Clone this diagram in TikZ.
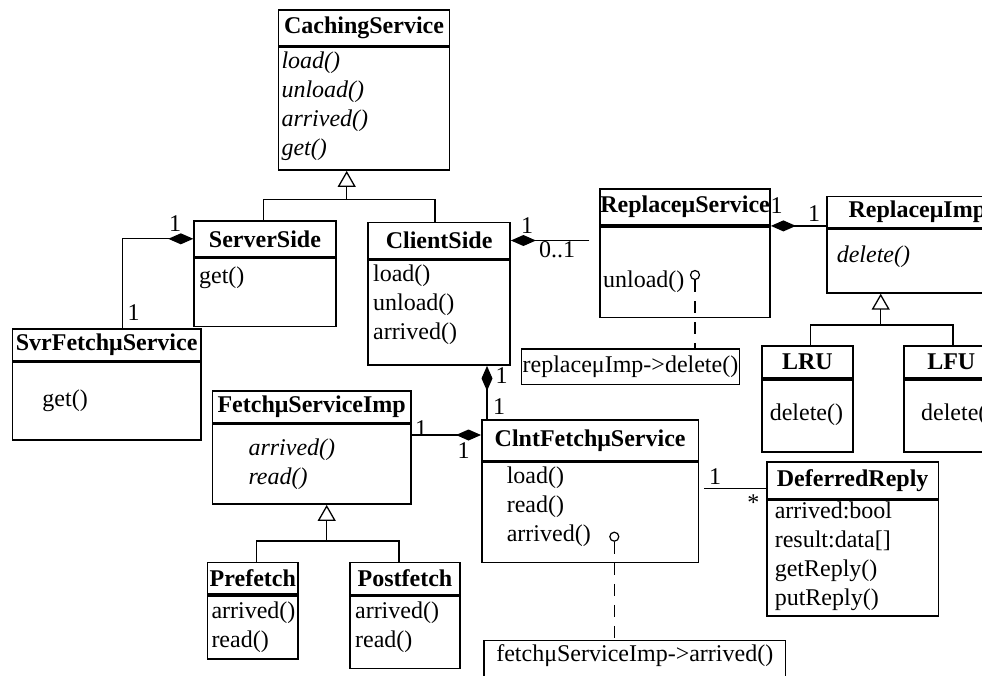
\documentclass[tikz,border=0pt]{standalone}
\usepackage{fontspec}
\setmainfont{Liberation Serif}
\usetikzlibrary{arrows.meta}

\newcommand{\cfont}{\fontsize{24}{29}\selectfont}
\newcommand{\mlist}[2]{\leftskip=#1\relax #2\par}

\tikzset{
  chead/.style={draw, line width=1.6pt, anchor=north west, inner sep=0pt, font=\cfont\bfseries},
  cbody/.style={draw, line width=1.6pt, anchor=north west, inner sep=0pt, align=left, font=\cfont},
  note/.style={draw, line width=1.2pt, anchor=north west, inner sep=0pt, align=center, font=\cfont},
  link/.style={line width=1.3pt},
  comp/.style={link, -{Diamond[length=25pt,width=11pt]}},
  isa/.style={link, -{Triangle[open,length=16pt,width=18pt]}},
  mult/.style={inner sep=0pt, font=\cfont},
  pin/.style={draw, circle, line width=1.2pt, minimum size=9pt, inner sep=0pt},
  dep/.style={line width=1.2pt, dash pattern=on 12pt off 9pt}
}

\begin{document}
\begin{tikzpicture}[x=1pt,y=-1pt]
    \useasboundingbox (0,0) rectangle (982,675);
    \clip (0,0) rectangle (982,675);

    % classes
    \node[chead, minimum width=171pt, minimum height=35.7pt] (cs) at (277.7,9.3) {CachingService};
    \node[cbody, text width=171pt, text height=21pt, text depth=101.7pt] (cs-b) at (cs.south west)
        {\mlist{3pt}{\itshape load()\\unload()\\arrived()\\get()}};

    \node[chead, minimum width=141.7pt, minimum height=36pt] (ss) at (193.3,220) {ServerSide};
    \node[cbody, text width=141.7pt, text height=25pt, text depth=43pt] (ss-b) at (ss.south west)
        {\mlist{5pt}{get()}};

    \node[chead, minimum width=142pt, minimum height=36pt] (cl) at (367.3,221.7) {ClientSide};
    \node[cbody, text width=142pt, text height=21pt, text depth=84pt] (cl-b) at (cl.south west)
        {\mlist{5pt}{load()\\unload()\\arrived()}};

    \node[chead, minimum width=188.3pt, minimum height=31.7pt] (sf) at (11.7,328.3) {SvrFetchμService};
    \node[cbody, text width=188.3pt, text height=44pt, text depth=33.7pt] (sf-b) at (sf.south west)
        {\mlist{30pt}{get()}};

    \node[chead, minimum width=170pt, minimum height=36pt] (rs) at (599.3,188.3) {ReplaceμService};
    \node[cbody, text width=170pt, text height=60.7pt, text depth=30pt] (rs-b) at (rs.south west)
        {\mlist{3pt}{unload()}};

    \node[chead, minimum width=181pt, minimum height=31.3pt] (ri) at (826,195.5) {ReplaceμImp};
    \node[cbody, text width=181pt, text height=33.7pt, text depth=30pt] (ri-b) at (ri.south west)
        {\mlist{10pt}{\itshape delete()}};

    \node[chead, minimum width=91.3pt, minimum height=32.3pt] (lru) at (761,345) {LRU};
    \node[cbody, text width=91.3pt, text height=40.4pt, text depth=31.6pt] (lru-b) at (lru.south west)
        {\mlist{8pt}{delete()}};

    \node[chead, minimum width=94.4pt, minimum height=32.3pt] (lfu) at (903.3,345) {LFU};
    \node[cbody, text width=94.4pt, text height=40.4pt, text depth=31.6pt] (lfu-b) at (lfu.south west)
        {\mlist{17pt}{delete()}};

    \node[chead, minimum width=198.3pt, minimum height=31.7pt] (fi) at (211.7,390) {FetchμServiceImp};
    \node[cbody, text width=198.3pt, text height=31pt, text depth=49pt] (fi-b) at (fi.south west)
        {\mlist{36pt}{\itshape arrived()\\read()}};

    \node[chead, minimum width=90.6pt, minimum height=31.6pt] (pre) at (206.7,561.7) {Prefetch};
    \node[cbody, text width=90.6pt, text height=22.7pt, text depth=40.7pt] (pre-b) at (pre.south west)
        {\mlist{4pt}{arrived()\\read()}};

    \node[chead, minimum width=109.7pt, minimum height=32.3pt] (post) at (349.3,561.7) {Postfetch};
    \node[cbody, text width=109.7pt, text height=22pt, text depth=50pt] (post-b) at (post.south west)
        {\mlist{5pt}{arrived()\\read()}};

    \node[chead, minimum width=216.7pt, minimum height=41pt] (cf) at (481,419) {ClntFetchμService};
    \node[cbody, text width=216.7pt, text height=21pt, text depth=79pt] (cf-b) at (cf.south west)
        {\mlist{25pt}{load()\\read()\\arrived()}};

    \node[chead, minimum width=171.7pt, minimum height=36.7pt] (dr) at (766,461) {DeferredReply};
    \node[cbody, text width=171.7pt, text height=18.3pt, text depth=97.3pt] (dr-b) at (dr.south west)
        {\mlist{8pt}{arrived:bool\\result:data[]\\getReply()\\putReply()}};

    % notes
    \node[note, minimum width=218.3pt, minimum height=35.7pt] (n1) at (520.7,348.3) {replaceμImp->delete()};
    \node[note, text width=301.7pt, text height=21pt, text depth=40pt] (n2) at (483.3,640) {fetchμServiceImp->arrived()};
    \node[pin] (p1) at (695,275) {};
    \node[pin] (p2) at (614.3,536.7) {};
    \draw[dep] (p1.south) -- (p1.south |- n1.north);
    \draw[dep] (p2.south) -- (p2.south |- n2.north);

    % generalisations
    \coordinate (g1) at (346.7,199.5);
    \coordinate (g2) at (326.7,541);
    \coordinate (g3) at (880.7,325);
    \draw[link] ([xshift=-1.5pt]ss.north) |- (g1) -| ([xshift=-4pt]cl.north);
    \draw[isa] (g1) -- (g1 |- cs-b.south);
    \draw[link] ([xshift=4pt]pre.north) |- (g2) -| ([xshift=-6pt]post.north);
    \draw[isa] (g2) -- (g2 |- fi-b.south);
    \draw[link] ([xshift=3.3pt]lru.north) |- (g3) -| ([xshift=1.8pt]lfu.north);
    \draw[isa] (g3) -- (g3 |- ri-b.south);

    % compositions
    \draw[comp] ([xshift=15.8pt]sf.north) |- (ss.west);
    \draw[comp, shorten <=10pt] (cl.east -| rs.west) -- (cl.east);
    \draw[comp] (rs.south east -| ri.west) -- (rs.south east);
    \draw[comp] ([xshift=6pt]cf.north west) -- ([xshift=6pt]cf.north west |- cl-b.south);
    \draw[comp] ([yshift=-11.7pt]fi-b.north east) -- ([yshift=-11.7pt]fi-b.north east -| cf.west);

    % association
    \draw[link, shorten <=5pt] ([yshift=-8pt]dr.west -| cf.east) -- ([yshift=-8pt]dr.west);

    % multiplicities
    \node[mult] (m1) at (175,223.5) {1};
    \node[mult] (m2) at (133.7,312.7) {1};
    \node[mult] (m3) at (527,226) {1};
    \node[mult] (m4) at (557,250) {0..1};
    \node[mult] (m5) at (776.7,206) {1};
    \node[mult] (m6) at (814,213.5) {1};
    \node[mult] (m7) at (501.5,375.7) {1};
    \node[mult] (m8) at (499,406.7) {1};
    \node[mult] (m9) at (421,429) {1};
    \node[mult] (m10) at (463.7,451) {1};
    \node[mult] (m11) at (715,476.7) {1};
    \node[mult] (m12) at (753.3,502.4) {*};
\end{tikzpicture}
\end{document}
